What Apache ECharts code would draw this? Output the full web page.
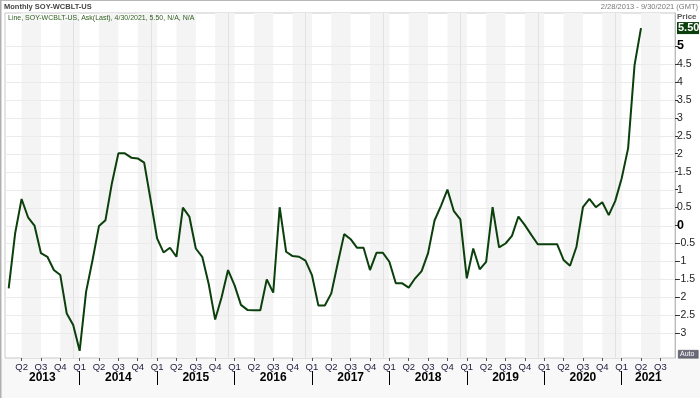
<!DOCTYPE html>
<html><head><meta charset="utf-8">
<script src="https://cdn.jsdelivr.net/npm/echarts@6/dist/echarts.min.js"></script>
<style>html,body{margin:0;padding:0;background:#fff}#c{width:700px;height:398px}</style>
</head><body><div id="c"></div>
<script>
// first data point: Feb 2013 (month-end), monthly
const startYear = 2013;
const startMonth = 2;
const totalMonths = 104; // Feb 2013 .. Sep 2021 axis extent
const values = [
  -1.75, -0.22, 0.74, 0.23, 0.00, -0.77, -0.87, -1.24, -1.38, -2.45, -2.77,
  -3.49, -1.84, -0.96, -0.01, 0.15, 1.18, 2.01, 2.01, 1.89, 1.87, 1.75, 0.71,
  -0.36, -0.75, -0.62, -0.87, 0.50, 0.25, -0.64, -0.87, -1.63, -2.62, -2.00, -1.24,
  -1.66, -2.21, -2.35, -2.36, -2.36, -1.50, -1.87, 0.51, -0.73, -0.85, -0.87, -0.98,
  -1.38, -2.23, -2.23, -1.89, -1.05, -0.24, -0.38, -0.62, -0.62, -1.24, -0.76, -0.76,
  -1.01, -1.61, -1.61, -1.73, -1.47, -1.27, -0.77, 0.14, 0.55, 1.00, 0.40, 0.17,
  -1.47, -0.64, -1.22, -1.01, 0.51, -0.61, -0.50, -0.29, 0.25, 0.01, -0.26, -0.52,
  -0.52, -0.52, -0.52, -0.96, -1.12, -0.59, 0.51, 0.74, 0.51, 0.65, 0.29, 0.68,
  1.31, 2.15, 4.47, 5.50
];
const years = ['2013','2014','2015','2016','2017','2018','2019','2020','2021'];
const quarterNames = ['Q1','Q2','Q3','Q4'];
const yTicks = [-3,-2.5,-2,-1.5,-1,-0.5,0,0.5,1,1.5,2,2.5,3,3.5,4,4.5,5];
const titleText = 'Monthly SOY-WCBLT-US';
const legendText = 'Line, SOY-WCBLT-US, Ask(Last), 4/30/2021, 5.50, N/A, N/A';
const rangeText = '2/28/2013 - 9/30/2021 (GMT)';

const xMin = -0.57, xMax = 103.27;
const yMin = -3.69, yMax = 5.92;

const monthOf = i => (startMonth - 1 + i) % 12;
const idx = [...Array(totalMonths).keys()];
const quarterIdx = idx.filter(i => monthOf(i) % 3 === 0);
const janIdx = idx.filter(i => monthOf(i) === 0);
const yearStarts = [-1, ...janIdx];
const yearCenters = years.map((y, k) => {
  const a = Math.max(yearStarts[k], xMin);
  const b = Math.min(k + 1 < yearStarts.length ? yearStarts[k + 1] : xMax, xMax);
  return (a + b) / 2;
});
const bands = [];
quarterIdx.forEach(i => {
  const m = monthOf(i);
  if (m === 3 || m === 9) bands.push([{xAxis: i}, {xAxis: Math.min(i + 3, xMax)}]);
});
const lineData = values.map((v, i) => [i, v]);

const chart = echarts.init(document.getElementById('c'), null, {renderer: 'canvas'});
const option = {
  animation: false,
  backgroundColor: '#fff',
  grid: {left: 5, right: 25, top: 13, bottom: 40, show: true, backgroundColor: '#fff', borderColor: '#c8c8c8', borderWidth: 1},
  xAxis: [{
    type: 'value', min: xMin, max: xMax, position: 'bottom',
    axisLine: {show: false, onZero: false},
    splitLine: {show: false},
    axisTick: {show: true, customValues: quarterIdx, length: 3, lineStyle: {color: '#555'}},
    axisLabel: {customValues: quarterIdx, margin: 4, fontSize: 9.5, color: '#1c1c3c', fontFamily: 'Liberation Sans',
      formatter: v => quarterNames[Math.floor(monthOf(Math.round(v)) / 3)]}
  }, {
    type: 'value', min: xMin, max: xMax, position: 'bottom', offset: 13,
    axisLine: {show: false, onZero: false},
    splitLine: {show: false},
    axisTick: {show: true, customValues: janIdx, length: 14, lineStyle: {color: '#000', width: 1}},
    axisLabel: {customValues: yearCenters, margin: 1, fontSize: 12, fontWeight: 'bold', color: '#000', fontFamily: 'Liberation Sans',
      formatter: v => { let k = 0, d = 1e9; yearCenters.forEach((c, j) => { if (Math.abs(c - v) < d) { d = Math.abs(c - v); k = j; } }); return years[k]; }}
  }],
  yAxis: {
    type: 'value', position: 'right', min: yMin, max: yMax,
    axisLine: {show: true, onZero: false, lineStyle: {color: '#bbb'}},
    splitLine: {show: false},
    axisTick: {show: true, customValues: yTicks, length: 3, lineStyle: {color: '#333'}},
    axisLabel: {customValues: yTicks, margin: 2, fontSize: 10.5, color: '#222', fontFamily: 'Liberation Sans',
      formatter: v => (v === 0 || v === 5) ? '{b|' + v + '}' : String(v),
      rich: {b: {fontSize: 12.5, fontWeight: 'bold', color: '#000', fontFamily: 'Liberation Sans'}}}
  },
  series: [{
    type: 'line', data: [], z: 1, silent: true, xAxisIndex: 0,
    markArea: {silent: true, itemStyle: {color: '#f4f4f4'}, data: bands}
  }, {
    type: 'line', data: lineData, z: 3, xAxisIndex: 0,
    showSymbol: false, symbol: 'none',
    lineStyle: {color: '#0b3f0b', width: 2}
  }]
};
chart.setOption(option);

const gx0 = chart.convertToPixel({xAxisIndex: 0}, xMin);
const gx1 = chart.convertToPixel({xAxisIndex: 0}, xMax);
const gy0 = chart.convertToPixel({yAxisIndex: 0}, yMax);
const gy1 = chart.convertToPixel({yAxisIndex: 0}, yMin);
const gridLines = yTicks.map(v => {
  const y = Math.round(chart.convertToPixel({yAxisIndex: 0}, v)) + 0.5;
  return {type: 'line', z: 2, silent: true, shape: {x1: gx0, y1: y, x2: gx1, y2: y}, style: {stroke: '#ebebeb', lineWidth: 1}};
});
const yearLines = janIdx.map(i => {
  const x = Math.round(chart.convertToPixel({xAxisIndex: 0}, i - 1)) + 0.5;
  return {type: 'line', z: 2, silent: true, shape: {x1: x, y1: gy0, x2: x, y2: gy1}, style: {stroke: '#e2e2e2', lineWidth: 1}};
});
const lastY = chart.convertToPixel({yAxisIndex: 0}, values[values.length - 1]);
chart.setOption({
  graphic: [
    {type: 'rect', left: 0, top: 358.5, shape: {width: 700, height: 40}, style: {fill: '#f8f8f8'}, z: -10, silent: true},
    ...gridLines,
    ...yearLines,
    {type: 'line', shape: {x1: 0, y1: 0.5, x2: 700, y2: 0.5}, style: {stroke: '#b8b8b8', lineWidth: 1}, z: 100, silent: true},
    {type: 'line', shape: {x1: 0.5, y1: 0, x2: 0.5, y2: 398}, style: {stroke: '#b0b0b0', lineWidth: 2}, z: 100, silent: true},
    {type: 'text', left: 4, top: 3, z: 100, style: {text: titleText, font: 'bold 7.5px "Liberation Sans"', fill: '#444'}, silent: true},
    {type: 'text', left: 8, top: 14.5, z: 100, style: {text: legendText, font: '7px "Liberation Sans"', fill: '#2e5e1e'}, silent: true},
    {type: 'text', right: 2, top: 3, z: 100, style: {text: rangeText, font: '7.5px "Liberation Sans"', fill: '#777'}, silent: true},
    {type: 'text', left: 677, top: 13, z: 100, style: {text: 'Price', font: 'bold 8px "Liberation Sans"', fill: '#555'}, silent: true},
    {type: 'rect', left: 677, top: lastY - 6, shape: {width: 22, height: 12}, style: {fill: '#0b3f0b'}, z: 120, silent: true},
    {type: 'text', left: 678, top: lastY - 5.5, z: 121, style: {text: values[values.length - 1].toFixed(2), font: 'bold 11px "Liberation Sans"', fill: '#fff'}, silent: true},
    {type: 'rect', left: 678, top: 350, shape: {width: 20, height: 8}, style: {fill: '#6a6a7a', stroke: '#444', lineWidth: 0.5}, z: 120, silent: true},
    {type: 'text', left: 680, top: 350.5, z: 121, style: {text: 'Auto', font: '7px "Liberation Sans"', fill: '#fff'}, silent: true}
  ]
});
</script></body></html>
